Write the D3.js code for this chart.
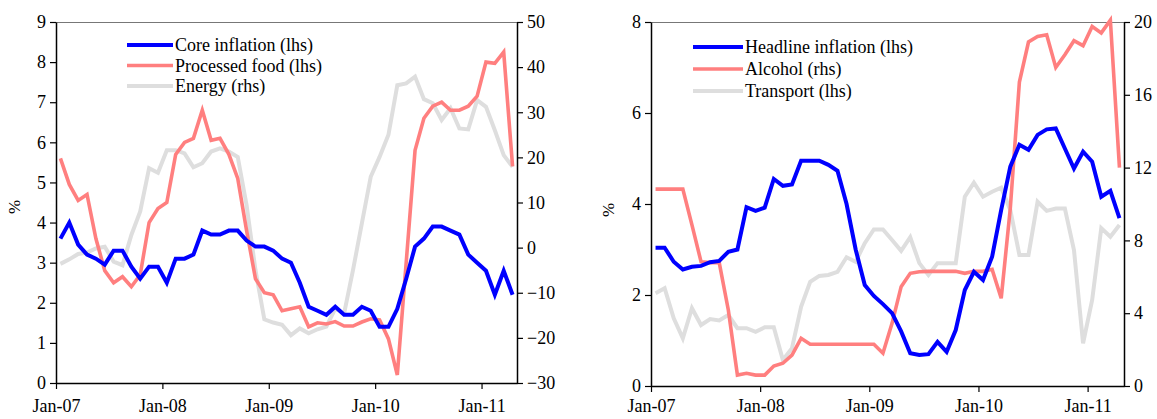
<!DOCTYPE html>
<html><head><meta charset="utf-8">
<script src="https://cdn.jsdelivr.net/npm/d3@7"></script>
<style>
html,body{margin:0;padding:0;background:#fff;}
svg{display:block;font-family:"Liberation Serif","Times New Roman",serif;}
</style></head>
<body>
<svg id="c" width="1157" height="419"></svg>
<script>
// ---------- data (monthly, Jan-07 .. Apr-11) ----------
const xTickLabels = ["Jan-07","Jan-08","Jan-09","Jan-10","Jan-11"];
const nMonths = 52;

// Left panel
const coreInflation = [3.6,4.0,3.45,3.2,3.1,2.95,3.3,3.3,2.9,2.6,2.9,2.9,2.5,3.1,3.1,3.2,3.8,3.7,3.7,3.8,3.8,3.55,3.4,3.4,3.3,3.1,3.0,2.5,1.9,1.8,1.7,1.9,1.7,1.7,1.9,1.8,1.4,1.4,1.85,2.6,3.4,3.6,3.9,3.9,3.8,3.7,3.2,3.0,2.8,2.2,2.8,2.2];
const processedFood = [5.6,4.95,4.55,4.7,3.6,2.8,2.5,2.65,2.4,2.7,4.0,4.35,4.5,5.7,6.0,6.1,6.8,6.05,6.1,5.7,5.1,3.8,2.6,2.25,2.2,1.8,1.85,1.9,1.4,1.5,1.47,1.53,1.42,1.42,1.52,1.6,1.57,1.1,0.2,3.0,5.8,6.6,6.9,7.0,6.8,6.8,6.9,7.15,8.0,7.97,8.25,5.4];
const energy = [-3.6,-2.6,-1.4,-1.1,-0.2,0.2,-3.1,-3.9,2.8,8.0,17.6,16.6,21.6,21.6,20.9,17.8,18.7,21.3,22.0,21.3,20.1,9.4,-5.0,-15.9,-16.6,-17.1,-19.4,-17.9,-19.0,-18.1,-17.5,-13.5,-14.6,-5.0,5.4,15.7,20.1,25.0,36.0,36.4,37.9,32.9,32.0,28.3,30.9,26.4,26.2,32.7,31.2,26.0,20.5,17.9];

// Right panel
const headline = [3.04,3.04,2.73,2.56,2.62,2.64,2.72,2.75,2.95,3.0,3.93,3.85,3.92,4.55,4.4,4.43,4.95,4.95,4.95,4.86,4.73,4.0,3.0,2.22,1.98,1.8,1.6,1.2,0.72,0.68,0.7,0.97,0.75,1.23,2.11,2.51,2.33,2.84,3.87,4.82,5.3,5.19,5.52,5.64,5.66,5.22,4.78,5.15,4.93,4.16,4.29,3.69];
const alcohol = [10.82,10.82,10.82,10.82,8.85,6.83,6.78,6.78,4.18,0.6,0.7,0.6,0.6,1.1,1.25,1.7,2.62,2.29,2.29,2.29,2.29,2.29,2.29,2.29,2.29,1.8,3.44,5.46,6.19,6.28,6.3,6.3,6.3,6.3,6.19,6.3,6.3,6.41,4.82,9.76,16.7,18.9,19.2,19.3,17.5,18.2,18.97,18.7,19.75,19.4,20.1,12.0];
const transport = [2.04,2.15,1.49,1.05,1.71,1.34,1.47,1.44,1.56,1.27,1.27,1.19,1.29,1.29,0.57,0.83,1.74,2.29,2.42,2.44,2.51,2.83,2.73,3.14,3.44,3.44,3.21,2.97,3.27,2.7,2.44,2.7,2.7,2.7,4.16,4.47,4.16,4.27,4.36,3.87,2.88,2.88,4.05,3.85,3.9,3.9,2.99,0.94,1.89,3.47,3.28,3.54];

const leftTicksA = [0,1,2,3,4,5,6,7,8,9];
const rightTicksA = [-30,-20,-10,0,10,20,30,40,50];
const leftTicksB = [0,2,4,6,8];
const rightTicksB = [0,4,8,12,16,20];

const BLUE = "#0000ff", RED = "#ff7f7f", GREY = "#dedede";
const svg = d3.select("#c");
const FS = 18;

function panel(cfg){
  const g = svg.append("g");
  const x = d3.scaleLinear().domain([0,nMonths]).range([cfg.x0,cfg.x1]);
  const yL = d3.scaleLinear().domain(cfg.lDom).range([cfg.yb,cfg.yt]);
  const yR = d3.scaleLinear().domain(cfg.rDom).range([cfg.yb,cfg.yt]);

  // top border
  g.append("line").attr("x1",cfg.x0).attr("x2",cfg.x1).attr("y1",cfg.yt+0.5).attr("y2",cfg.yt+0.5)
    .attr("stroke","#777").attr("stroke-width",1);

  // axes
  const ax = g.append("g").attr("transform",`translate(0,${cfg.yb})`)
    .call(d3.axisBottom(x).tickValues([0,12,24,36,48]).tickFormat((d,i)=>xTickLabels[i]).tickSize(6).tickSizeOuter(0));
  const al = g.append("g").attr("transform",`translate(${cfg.x0},0)`)
    .call(d3.axisLeft(yL).tickValues(cfg.lTicks).tickFormat(d3.format("d")).tickSize(6).tickSizeOuter(0));
  const ar = g.append("g").attr("transform",`translate(${cfg.x1},0)`)
    .call(d3.axisRight(yR).tickValues(cfg.rTicks).tickFormat(d3.format("d")).tickSize(6).tickSizeOuter(0));
  [ax,al,ar].forEach(a=>{
    a.selectAll("path").attr("stroke","#000").attr("stroke-width",1.5);
    a.selectAll("line").attr("stroke","#000").attr("stroke-width",1.2);
    a.selectAll("text").attr("font-family","Liberation Serif, Times New Roman, serif")
      .attr("font-size",FS).attr("fill","#000");
  });
  ax.selectAll("text").attr("dy",null).attr("y",412 - cfg.yb);
  al.selectAll("text").attr("x",-10);
  ar.selectAll("text").attr("x",10);

  // % label
  g.append("text").attr("transform",`translate(${cfg.pctX},${cfg.pctY}) rotate(-90)`)
    .attr("text-anchor","middle").attr("font-size",FS-1).text("%");

  // lines
  const mk = (ys)=>d3.line().x((d,i)=>x(i+0.5)).y(d=>ys(d));
  cfg.series.forEach(s=>{
    g.append("path").datum(s.data).attr("d",mk(s.axis==="l"?yL:yR))
      .attr("fill","none").attr("stroke",s.color).attr("stroke-width",s.w)
      .attr("stroke-linejoin","miter");
  });

  // legend
  const lg = g.append("g");
  cfg.legend.forEach((s,i)=>{
    const yy = cfg.legY + i*cfg.legDy;
    lg.append("line").attr("x1",cfg.legX).attr("x2",cfg.legX+cfg.legW).attr("y1",yy).attr("y2",yy)
      .attr("stroke",s.color).attr("stroke-width",s.w);
    lg.append("text").attr("x",cfg.legX+cfg.legW+2).attr("y",yy).attr("dy","0.35em")
      .attr("font-size",FS).text(s.name);
  });
}

const sA = [
  {data:energy,axis:"r",color:GREY,w:4,name:"Energy (rhs)"},
  {data:processedFood,axis:"l",color:RED,w:3.6,name:"Processed food (lhs)"},
  {data:coreInflation,axis:"l",color:BLUE,w:4,name:"Core inflation (lhs)"}
];
panel({x0:56,x1:517,yt:22,yb:383,lDom:[0,9],rDom:[-30,50],lTicks:leftTicksA,rTicks:rightTicksA,
  pctX:20,pctY:207,series:sA,legend:[sA[2],sA[1],sA[0]],legX:127,legW:46,legY:45,legDy:20.5});

const sB = [
  {data:transport,axis:"l",color:GREY,w:4,name:"Transport (lhs)"},
  {data:alcohol,axis:"r",color:RED,w:3.6,name:"Alcohol (rhs)"},
  {data:headline,axis:"l",color:BLUE,w:4,name:"Headline inflation (lhs)"}
];
panel({x0:651,x1:1124,yt:22,yb:386,lDom:[0,8],rDom:[0,20],lTicks:leftTicksB,rTicks:rightTicksB,
  pctX:614,pctY:210,series:sB,legend:[sB[2],sB[1],sB[0]],legX:693,legW:50,legY:47,legDy:22});
</script>
</body></html>
